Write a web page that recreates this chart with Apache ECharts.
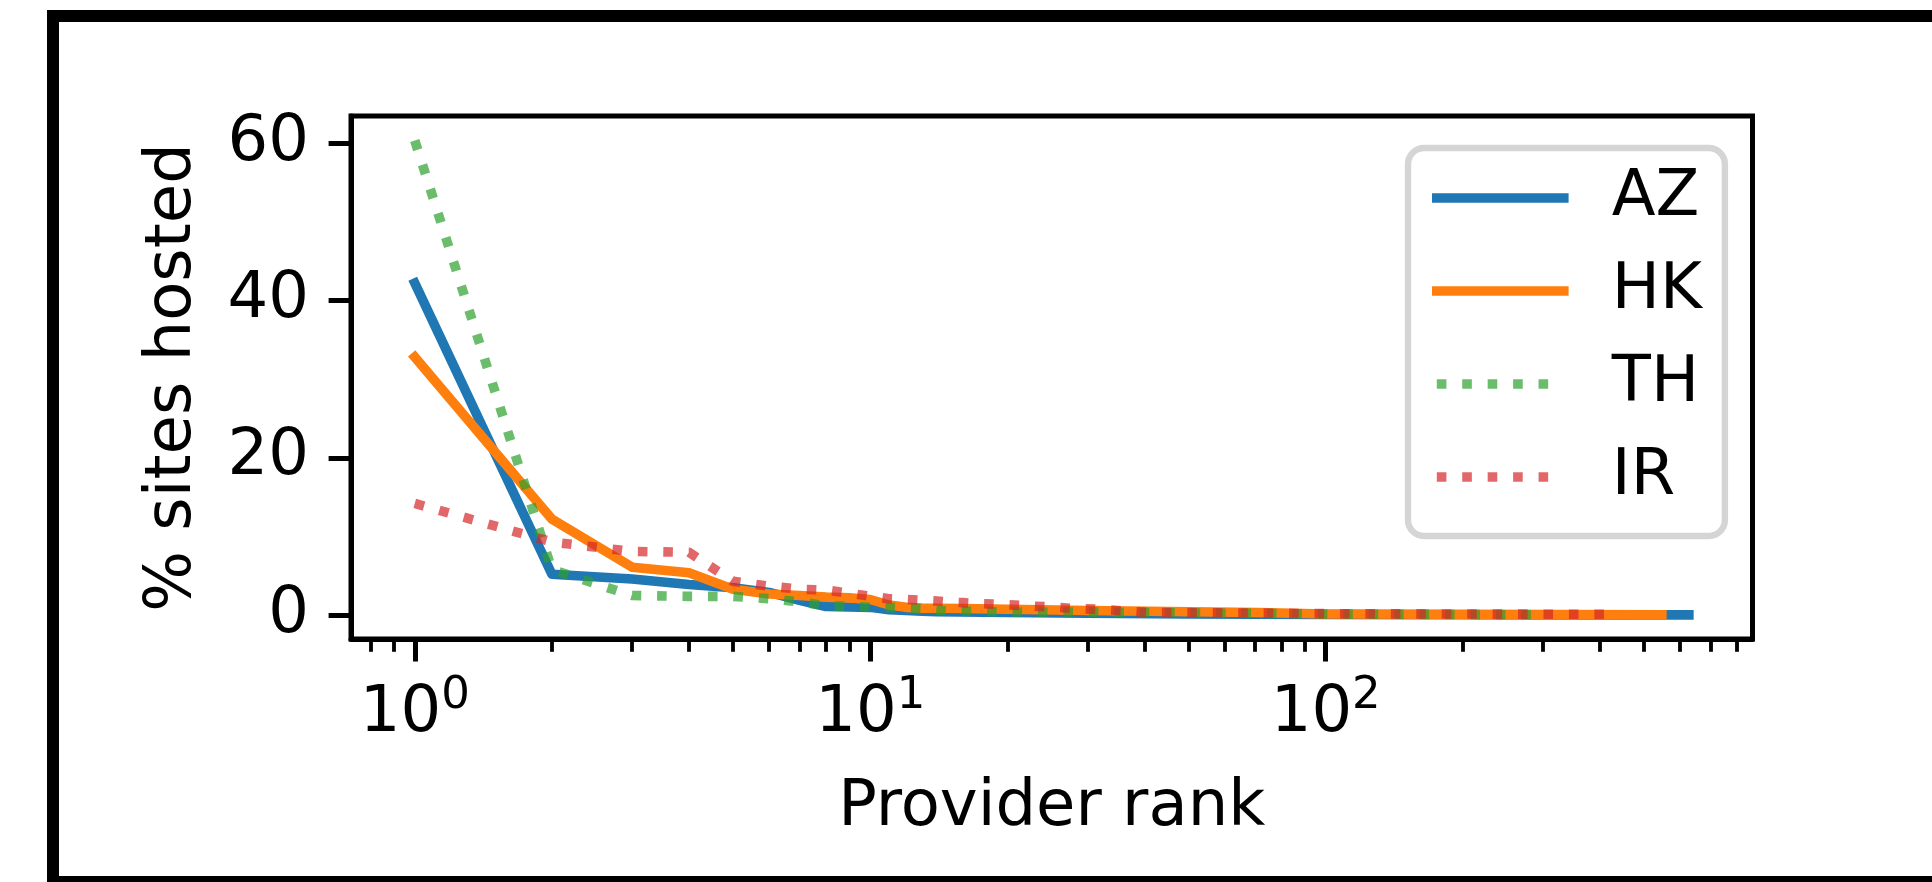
<!DOCTYPE html>
<html>
<head>
<meta charset="utf-8">
<script src="https://cdn.jsdelivr.net/npm/echarts@6.0.0/dist/echarts.min.js"></script>
<style>
  html, body { margin: 0; padding: 0; background: #fff; }
  #main { width: 1932px; height: 882px; }
</style>
</head>
<body>
<div id="main"></div>
<script>
// provider rank -> % of sites hosted, per country
var rankAZ = [1, 2, 3, 4, 5, 6, 7, 8, 9, 10, 11, 12, 13, 14, 20, 30, 50, 100, 200, 400, 627];
var pctAZ  = [42.2, 5.2, 4.6, 3.9, 3.5, 2.9, 1.9, 1.1, 1.05, 1.0, 0.7, 0.6, 0.5, 0.45, 0.35, 0.25, 0.15, 0.1, 0.06, 0.04, 0.04];

var rankHK = [1, 2, 3, 4, 5, 6, 7, 8, 9, 10, 11, 12, 13, 14, 16, 20, 30, 50, 71, 100, 200, 547];
var pctHK  = [32.8, 12.2, 6.1, 5.4, 3.3, 2.7, 2.5, 2.3, 2.2, 2.0, 1.3, 1.0, 0.9, 0.88, 0.85, 0.75, 0.6, 0.45, 0.35, 0.15, 0.12, 0.05];

var rankTH = [1, 2, 3, 4, 5, 6, 7, 8, 9, 10, 11, 12, 13, 14, 20, 30, 50, 100, 300];
var pctTH  = [60.3, 5.8, 2.5, 2.4, 2.4, 2.1, 1.7, 1.2, 1.15, 1.0, 1.0, 0.9, 0.8, 0.6, 0.42, 0.4, 0.3, 0.15, 0.05];

var rankIR = [1, 2, 3, 4, 5, 6, 7, 8, 9, 10, 11, 12, 13, 14, 15, 16, 17, 19, 22, 25, 28, 32, 36, 41, 60, 100, 200, 420];
var pctIR  = [14.2, 9.3, 8.1, 8.0, 4.3, 3.7, 3.3, 3.2, 2.8, 2.4, 2.1, 2.0, 1.9, 1.8, 1.65, 1.6, 1.5, 1.4, 1.2, 1.05, 0.85, 0.75, 0.55, 0.35, 0.3, 0.2, 0.15, 0.12];

var xMajorTicks = [1, 10, 100];
var xMinorTicks = [0.8, 0.9, 2, 3, 4, 5, 6, 7, 8, 9, 20, 30, 40, 50, 60, 70, 80, 90, 200, 300, 400, 500, 600, 700, 800];
var yTicks = [0, 20, 40, 60];

var FONT = 'DejaVu Sans';

function pairs(xs, ys) {
	var out = [];
	for (var i = 0; i < xs.length; i++) out.push([xs[i], ys[i]]);
	return out;
}

var myChart = echarts.init(document.getElementById('main'), null, {renderer: 'canvas'});

var xMin = 0.7244, xMax = 865.0;

var option = {
	animation: false,
	backgroundColor: '#fff',
	textStyle: {fontFamily: FONT},
	grid: {
		left: 351, right: 179.5, top: 116, bottom: 243,
		show: true, borderColor: '#000', borderWidth: 5,
		containLabel: false, outerBoundsMode: 'none'
	},
	legend: {
		orient: 'vertical',
		left: 1408, top: 148,
		padding: [18, 23, 27, 24],
		itemGap: 29,
		itemWidth: 127, itemHeight: 10,
		backgroundColor: '#fff',
		borderColor: '#d5d5d5', borderWidth: 6.4, borderRadius: 16,
		itemStyle: {opacity: 0},
		lineStyle: {width: 9.6},
		textStyle: {fontSize: 64, fontFamily: FONT, color: '#000', padding: [0, 0, 0, 43]},
		data: ['AZ', 'HK', 'TH', 'IR']
	},
	xAxis: [{
		type: 'log', logBase: 10, min: xMin, max: xMax,
		name: 'Provider rank', nameLocation: 'middle', nameGap: 137,
		nameTextStyle: {fontSize: 64, fontFamily: FONT, color: '#000'},
		axisLine: {show: true, onZero: false, lineStyle: {color: '#000', width: 5}},
		axisTick: {show: true, inside: false, length: 22.4, lineStyle: {color: '#000', width: 5}, customValues: xMajorTicks},
		axisLabel: {
			show: true, margin: 35, color: '#000', customValues: xMajorTicks,
			formatter: function (v) { return '{b|10}{s|' + Math.round(Math.log10(v)) + '}'; },
			rich: {
				b: {fontSize: 64, fontFamily: FONT, color: '#000', lineHeight: 81},
				s: {fontSize: 45, fontFamily: FONT, color: '#000', lineHeight: 45, padding: [0, 0, 36, 0]}
			}
		},
		splitLine: {show: false},
		minorTick: {show: false}
	}, {
		type: 'log', logBase: 10, min: xMin, max: xMax, position: 'bottom', offset: 0,
		axisLine: {show: false, onZero: false},
		axisTick: {show: true, inside: false, length: 12.8, lineStyle: {color: '#000', width: 3.84}, customValues: xMinorTicks},
		axisLabel: {show: false},
		splitLine: {show: false}
	}],
	yAxis: {
		type: 'value', min: -3.02, max: 63.42,
		name: '% sites hosted', nameLocation: 'middle', nameRotate: 90, nameGap: 146,
		nameTextStyle: {fontSize: 64, fontFamily: FONT, color: '#000'},
		axisLine: {show: true, onZero: false, lineStyle: {color: '#000', width: 5}},
		axisTick: {show: true, inside: false, length: 22.4, lineStyle: {color: '#000', width: 5}, customValues: yTicks},
		axisLabel: {show: true, margin: 42, fontSize: 64, fontFamily: FONT, color: '#000', customValues: yTicks, padding: [9, 0, 0, 0]},
		splitLine: {show: false}
	},
	graphic: [{
		type: 'rect', silent: true, z: 100,
		shape: {x: 53, y: 16, width: 1950, height: 866},
		style: {fill: 'none', stroke: '#000', lineWidth: 12}
	}],
	series: [{
		name: 'AZ', type: 'line', xAxisIndex: 0, symbol: 'none', showSymbol: false,
		lineStyle: {color: '#1f77b4', width: 9.6, cap: 'square', join: 'round'},
		itemStyle: {color: '#1f77b4'},
		data: pairs(rankAZ, pctAZ)
	}, {
		name: 'HK', type: 'line', xAxisIndex: 0, symbol: 'none', showSymbol: false,
		lineStyle: {color: '#ff7f0e', width: 9.6, cap: 'square', join: 'round'},
		itemStyle: {color: '#ff7f0e'},
		data: pairs(rankHK, pctHK)
	}, {
		name: 'TH', type: 'line', xAxisIndex: 0, symbol: 'none', showSymbol: false,
		lineStyle: {color: 'rgba(44,160,44,0.7)', width: 9.6, type: [9.6, 15.84], cap: 'butt', join: 'round'},
		itemStyle: {color: 'rgba(44,160,44,0.7)'},
		data: pairs(rankTH, pctTH)
	}, {
		name: 'IR', type: 'line', xAxisIndex: 0, symbol: 'none', showSymbol: false,
		lineStyle: {color: 'rgba(214,39,40,0.7)', width: 9.6, type: [9.6, 15.84], cap: 'butt', join: 'round'},
		itemStyle: {color: 'rgba(214,39,40,0.7)'},
		data: pairs(rankIR, pctIR)
	}]
};

myChart.setOption(option);
</script>
</body>
</html>
